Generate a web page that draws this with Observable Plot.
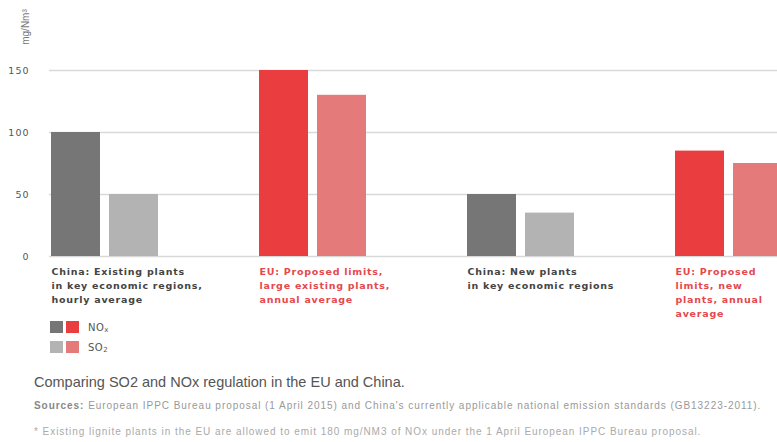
<!DOCTYPE html>
<html><head><meta charset="utf-8">
<script src="https://cdn.jsdelivr.net/npm/d3@7"></script>
<script src="https://cdn.jsdelivr.net/npm/@observablehq/plot@0.6"></script>
<style>
body{margin:0;background:#fff;width:777px;height:442px;overflow:hidden;position:relative;font-family:"Liberation Sans",Arial,sans-serif;}
#chart{position:absolute;left:0;top:0;width:777px;overflow:hidden;}
#chart svg{overflow:hidden;max-width:none;}
#chart g[aria-label="text"] text{letter-spacing:0.75px;}
#chart g[aria-label="y-axis tick label"] text{letter-spacing:1px;}
.abs{position:absolute;white-space:nowrap;}
.ylab{left:25px;top:27px;font-size:10px;color:#777;transform:translate(-50%,-50%) rotate(-90deg);}
.leg{left:50px;font-family:"DejaVu Sans";font-size:10px;color:#555;display:flex;align-items:center;letter-spacing:0.5px;}
.leg sub{font-size:7px;position:relative;top:3px;vertical-align:baseline;}
.sw{width:13px;height:12px;display:inline-block;margin-right:3px;}
.title{left:34px;top:374px;font-size:14.5px;color:#555;}
.src{left:34px;top:400px;font-size:10px;color:#999;letter-spacing:0.95px;}
.note{left:34px;top:426px;font-size:10px;color:#aaa;letter-spacing:0.95px;}
</style></head>
<body>
<div id="chart"></div>
<div class="abs ylab">mg/Nm³</div>
<div class="abs leg" style="top:321px"><span class="sw" style="background:#767676"></span><span class="sw" style="background:#e93d3f;margin-right:9px"></span>NO<sub>x</sub></div>
<div class="abs leg" style="top:341px"><span class="sw" style="background:#b3b3b3"></span><span class="sw" style="background:#e47a7a;margin-right:9px"></span>SO<sub>2</sub></div>
<div class="abs title">Comparing SO2 and NOx regulation in the EU and China.</div>
<div class="abs src"><b style="color:#888">Sources:</b> European IPPC Bureau proposal (1 April 2015) and China's currently applicable national emission standards (GB13223-2011).</div>
<div class="abs note">* Existing lignite plants in the EU are allowed to emit 180 mg/NM3 of NOx under the 1 April European IPPC Bureau proposal.</div>
<script>
const groupKeys = ["chinaExisting", "euLarge", "chinaNew", "euNew"];
const groupLabels = [
  "China: Existing plants\nin key economic regions,\nhourly average",
  "EU: Proposed limits,\nlarge existing plants,\nannual average",
  "China: New plants\nin key economic regions",
  "EU: Proposed\nlimits, new\nplants, annual\naverage"
];
const groupRegion = ["China", "EU", "China", "EU"];
const pollutants = ["NOx", "SO2"];
const noxValues = [100, 150, 50, 85];
const so2Values = [50, 130, 35, 75];
const yTicks = [0, 50, 100, 150];

const colorKeys = ["China NOx", "China SO2", "EU NOx", "EU SO2"];
const colorRange = ["#767676", "#b3b3b3", "#e93d3f", "#e47a7a"];
const labelColor = {China: "#444444", EU: "#e5484d"};

const data = groupKeys.flatMap((g, i) => [
  {group: g, pollutant: "NOx", key: groupRegion[i] + " NOx", value: noxValues[i]},
  {group: g, pollutant: "SO2", key: groupRegion[i] + " SO2", value: so2Values[i]}
]);

const W = 777, facetStep = 208.3, left = 50;
const chart = Plot.plot({
  width: W,
  height: 330,
  marginLeft: left,
  marginRight: W - (left + 4 * facetStep),
  marginTop: 70,
  marginBottom: 74,
  style: {fontFamily: "DejaVu Sans", fontSize: "9.5px", color: "#555", background: "transparent"},
  fx: {domain: groupKeys, padding: 0, axis: null, label: null},
  x: {domain: pollutants, paddingInner: 0.155, paddingOuter: 0.87, align: 0, axis: null},
  y: {domain: [0, 150], ticks: yTicks, tickSize: 0, tickPadding: 22, label: null},
  color: {domain: colorKeys, range: colorRange},
  marks: [
    Plot.gridY(yTicks, {stroke: "#d9d9d9", strokeOpacity: 1, strokeWidth: 1.5, dx: -2}),
    Plot.barY(data, {fx: "group", x: "pollutant", y: "value", fill: "key"}),
    Plot.text(groupKeys, {
      fx: d => d,
      text: d => groupLabels[groupKeys.indexOf(d)],
      fill: d => labelColor[groupRegion[groupKeys.indexOf(d)]],
      frameAnchor: "bottom-left",
      textAnchor: "start",
      lineAnchor: "top",
      dx: 0, dy: 9,
      fontSize: 9.5,
      fontWeight: "bold",
      lineHeight: 1.47
    })
  ]
});
document.getElementById("chart").appendChild(chart);
</script>
</body></html>
